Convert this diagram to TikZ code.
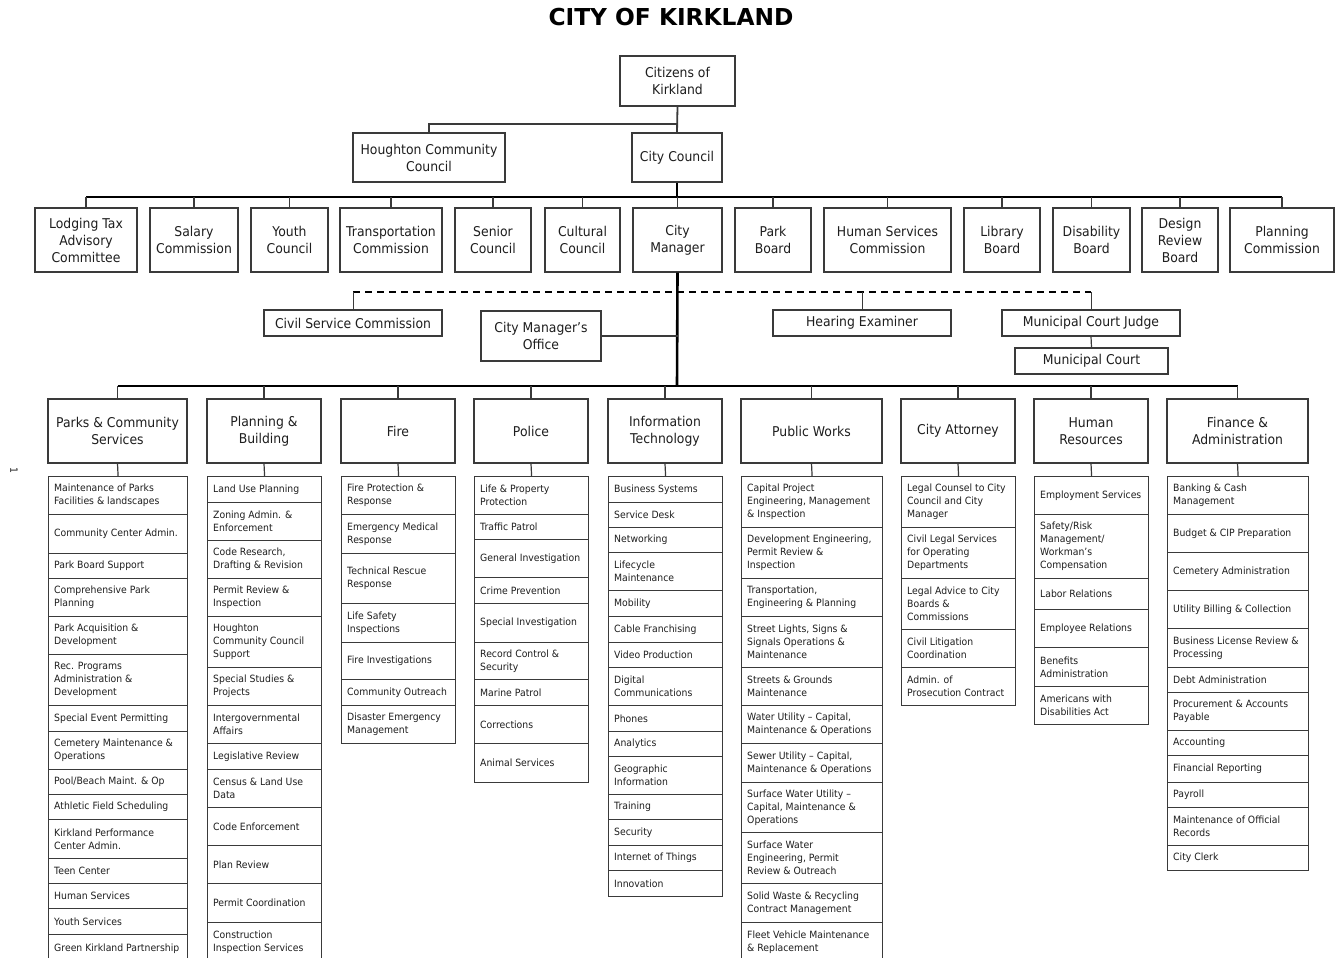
\documentclass[tikz,border=0pt]{standalone}
\usepackage{fontspec}
\setmainfont{DejaVu Sans}
\newfontfamily\hdfont{DejaVu Sans}[FakeStretch=0.92]
\newfontfamily\itfont{DejaVu Sans}[FakeStretch=0.93]
\newfontfamily\ttlfont{DejaVu Sans}
\definecolor{boxc}{HTML}{3A3A3A}
\definecolor{txt}{HTML}{1E1E1E}
\tikzset{
  box/.style={draw=boxc, line width=1.2pt, fill=white, text=txt, inner sep=2pt, align=center,
    font=\hdfont\fontsize{13.5}{17}\selectfont},
  itembox/.style={draw=boxc, line width=1.2pt, fill=white, inner sep=0pt, anchor=north west},
  itemtxt/.style={text=txt, inner sep=0pt, align=left, anchor=west,
    font=\itfont\fontsize{10}{13}\selectfont},
  link/.style={draw=boxc, line width=1.2pt},
  mainlink/.style={draw=black, line width=2.6pt},
  buslink/.style={draw=black, line width=2pt},
  dashlink/.style={draw=black, line width=1.3pt, dash pattern=on 7pt off 5pt},
}
\newcommand\mkbox[6]{%
  \node[box, minimum width={#4-#2}, minimum height={#5-#3}] (#1) at ({(#2+#4)/2},{(#3+#5)/2}) {#6};}
\newcommand\mkcol[4]{%
  \foreach \ya/\yb/\tx [count=\i] in {#4} {%
    \node[itembox, minimum width={#3-#2}, minimum height={\yb-\ya}] (#1-\i) at (#2,\ya) {};
    \node[itemtxt] (#1-\i-t) at ([xshift=6pt]#1-\i.west) {\tx};
  }}
\begin{document}
\begin{tikzpicture}[x=1pt,y=-1pt]
\useasboundingbox (0,0) rectangle (1344,958);
\fill[white] (0,0) rectangle (1344,958);

\node[font=\ttlfont\bfseries\fontsize{23.3}{26}\selectfont, text=black] (title) at (671,17) {CITY OF KIRKLAND};
\node[font=\itfont\fontsize{10}{12}\selectfont, rotate=-90, text=txt] (pg) at (14,470) {1};

% top
\mkbox{citizens}{620}{56}{735}{106}{Citizens of\\Kirkland}
\mkbox{houghton}{353}{133}{505}{182}{Houghton Community\\Council}
\mkbox{council}{632}{133}{722}{182}{City Council}

% boards row
\mkbox{lodging}{35}{208}{137}{272}{Lodging Tax\\Advisory\\Committee}
\mkbox{salary}{150}{208}{238}{272}{Salary\\Commission}
\mkbox{youth}{251}{208}{328}{272}{Youth\\Council}
\mkbox{transp}{340}{208}{442}{272}{Transportation\\Commission}
\mkbox{senior}{455}{208}{531}{272}{Senior\\Council}
\mkbox{cultural}{545}{208}{620}{272}{Cultural\\Council}
\mkbox{cm}{633}{208}{722}{272}{City\\Manager}
\mkbox{park}{735}{208}{811}{272}{Park\\Board}
\mkbox{humserv}{824}{208}{951}{272}{Human Services\\Commission}
\mkbox{library}{964}{208}{1040}{272}{Library\\Board}
\mkbox{disab}{1053}{208}{1130}{272}{Disability\\Board}
\mkbox{design}{1142}{208}{1218}{272}{Design\\Review\\Board}
\mkbox{planc}{1230}{208}{1334}{272}{Planning\\Commission}

% middle
\mkbox{civil}{264}{310}{442}{336}{Civil Service Commission}
\mkbox{cmo}{481}{311}{601}{361}{City Manager’s\\Office}
\mkbox{hearing}{773}{310}{951}{336}{Hearing Examiner}
\mkbox{judge}{1002}{310}{1180}{336}{Municipal Court Judge}
\mkbox{court}{1015}{348}{1168}{374}{Municipal Court}

% departments
\mkbox{parks}{48}{399}{187}{463}{Parks \& Community\\Services}
\mkbox{plan}{207}{399}{321}{463}{Planning \&\\Building}
\mkbox{fire}{341}{399}{455}{463}{Fire}
\mkbox{police}{474}{399}{588}{463}{Police}
\mkbox{it}{608}{399}{722}{463}{Information\\Technology}
\mkbox{pw}{741}{399}{882}{463}{Public Works}
\mkbox{ca}{901}{399}{1015}{463}{City Attorney}
\mkbox{hr}{1034}{399}{1148}{463}{Human\\Resources}
\mkbox{fin}{1167}{399}{1308}{463}{Finance \&\\Administration}

% columns
\mkcol{parks}{48}{187}{476/514/{Maintenance of Parks\\Facilities \& landscapes},514/553/{Community Center Admin.},553/578/{Park Board Support},578/616/{Comprehensive Park\\Planning},616/654/{Park Acquisition \&\\Development},654/705/{Rec. Programs\\Administration \&\\Development},705/731/{Special Event Permitting},731/769/{Cemetery Maintenance \&\\Operations},769/794/{Pool/Beach Maint. \& Op},794/819/{Athletic Field Scheduling},819/858/{Kirkland Performance\\Center Admin.},858/883/{Teen Center},883/908/{Human Services},908/934/{Youth Services},934/962/{Green Kirkland Partnership}}
\mkcol{plan}{207}{321}{476/502/{Land Use Planning},502/540/{Zoning Admin. \&\\Enforcement},540/578/{Code Research,\\Drafting \& Revision},578/616/{Permit Review \&\\Inspection},616/667/{Houghton\\Community Council\\Support},667/705/{Special Studies \&\\Projects},705/743/{Intergovernmental\\Affairs},743/769/{Legislative Review},769/807/{Census \& Land Use\\Data},807/845/{Code Enforcement},845/883/{Plan Review},883/922/{Permit Coordination},922/962/{Construction\\Inspection Services}}
\mkcol{fire}{341}{455}{476/514/{Fire Protection \&\\Response},514/553/{Emergency Medical\\Response},553/603/{Technical Rescue\\Response},603/642/{Life Safety\\Inspections},642/679/{Fire Investigations},679/705/{Community Outreach},705/743/{Disaster Emergency\\Management}}
\mkcol{police}{474}{588}{476/514/{Life \& Property\\Protection},514/539/{Traffic Patrol},539/577/{General Investigation},577/603/{Crime Prevention},603/642/{Special Investigation},642/679/{Record Control \&\\Security},679/705/{Marine Patrol},705/743/{Corrections},743/782/{Animal Services}}
\mkcol{it}{608}{722}{476/502/{Business Systems},502/527/{Service Desk},527/552/{Networking},552/590/{Lifecycle\\Maintenance},590/616/{Mobility},616/642/{Cable Franchising},642/667/{Video Production},667/705/{Digital\\Communications},705/731/{Phones},731/756/{Analytics},756/794/{Geographic\\Information},794/819/{Training},819/845/{Security},845/870/{Internet of Things},870/896/{Innovation}}
\mkcol{pw}{741}{882}{476/527/{Capital Project\\Engineering, Management\\\& Inspection},527/578/{Development Engineering,\\Permit Review \&\\Inspection},578/616/{Transportation,\\Engineering \& Planning},616/667/{Street Lights, Signs \&\\Signals Operations \&\\Maintenance},667/705/{Streets \& Grounds\\Maintenance},705/743/{Water Utility – Capital,\\Maintenance \& Operations},743/782/{Sewer Utility – Capital,\\Maintenance \& Operations},782/832/{Surface Water Utility –\\Capital, Maintenance \&\\Operations},832/883/{Surface Water\\Engineering, Permit\\Review \& Outreach},883/922/{Solid Waste \& Recycling\\Contract Management},922/962/{Fleet Vehicle Maintenance\\\& Replacement}}
\mkcol{ca}{901}{1015}{476/527/{Legal Counsel to City\\Council and City\\Manager},527/578/{Civil Legal Services\\for Operating\\Departments},578/629/{Legal Advice to City\\Boards \&\\Commissions},629/667/{Civil Litigation\\Coordination},667/705/{Admin. of\\Prosecution Contract}}
\mkcol{hr}{1034}{1148}{476/514/{Employment Services},514/578/{Safety/Risk\\Management/\\Workman’s\\Compensation},578/609/{Labor Relations},609/647/{Employee Relations},647/686/{Benefits\\Administration},686/724/{Americans with\\Disabilities Act}}
\mkcol{fin}{1167}{1308}{476/514/{Banking \& Cash\\Management},514/552/{Budget \& CIP Preparation},552/590/{Cemetery Administration},590/628/{Utility Billing \& Collection},628/667/{Business License Review \&\\Processing},667/692/{Debt Administration},692/730/{Procurement \& Accounts\\Payable},730/755/{Accounting},755/782/{Financial Reporting},782/807/{Payroll},807/845/{Maintenance of Official\\Records},845/870/{City Clerk}}

% connectors: top
\coordinate (j1) at (677,124);
\coordinate (bus1) at (677,197);
\coordinate (dsh) at (677,292);
\coordinate (bus2) at (677,386);
\draw[link, line width=1.8pt] (citizens.south) -- (council.north);
\draw[link, line width=1.8pt] (j1) -| (houghton.north);
\draw[mainlink] (council.south) -- (bus1);
\draw[mainlink] (lodging.north |- bus1) -- (planc.north |- bus1);
\foreach \n in {lodging,salary,youth,transp,senior,cultural,cm,park,humserv,library,disab,design,planc}
  \draw[link] (\n.north |- bus1) -- (\n.north);

% dashed advisory line
\draw[dashlink] (civil.north |- dsh) -- (judge.north |- dsh);
\foreach \n in {civil,hearing,judge}
  \draw[link, line width=1pt] (\n.north |- dsh) -- (\n.north);
\draw[link] (judge.south) -- (court.north);

% city manager trunk
\draw[mainlink] (cm.south) -- (bus2);
\draw[link] (cmo.east) -- (cmo.east -| cm.south);
\draw[buslink] (parks.north |- bus2) -- (fin.north |- bus2);
\foreach \n in {parks,plan,fire,police,it,pw,ca,hr,fin}{
  \draw[link] (\n.north |- bus2) -- (\n.north);
  \draw[link] (\n.south) -- (\n-1.north);
}
\end{tikzpicture}
\end{document}
